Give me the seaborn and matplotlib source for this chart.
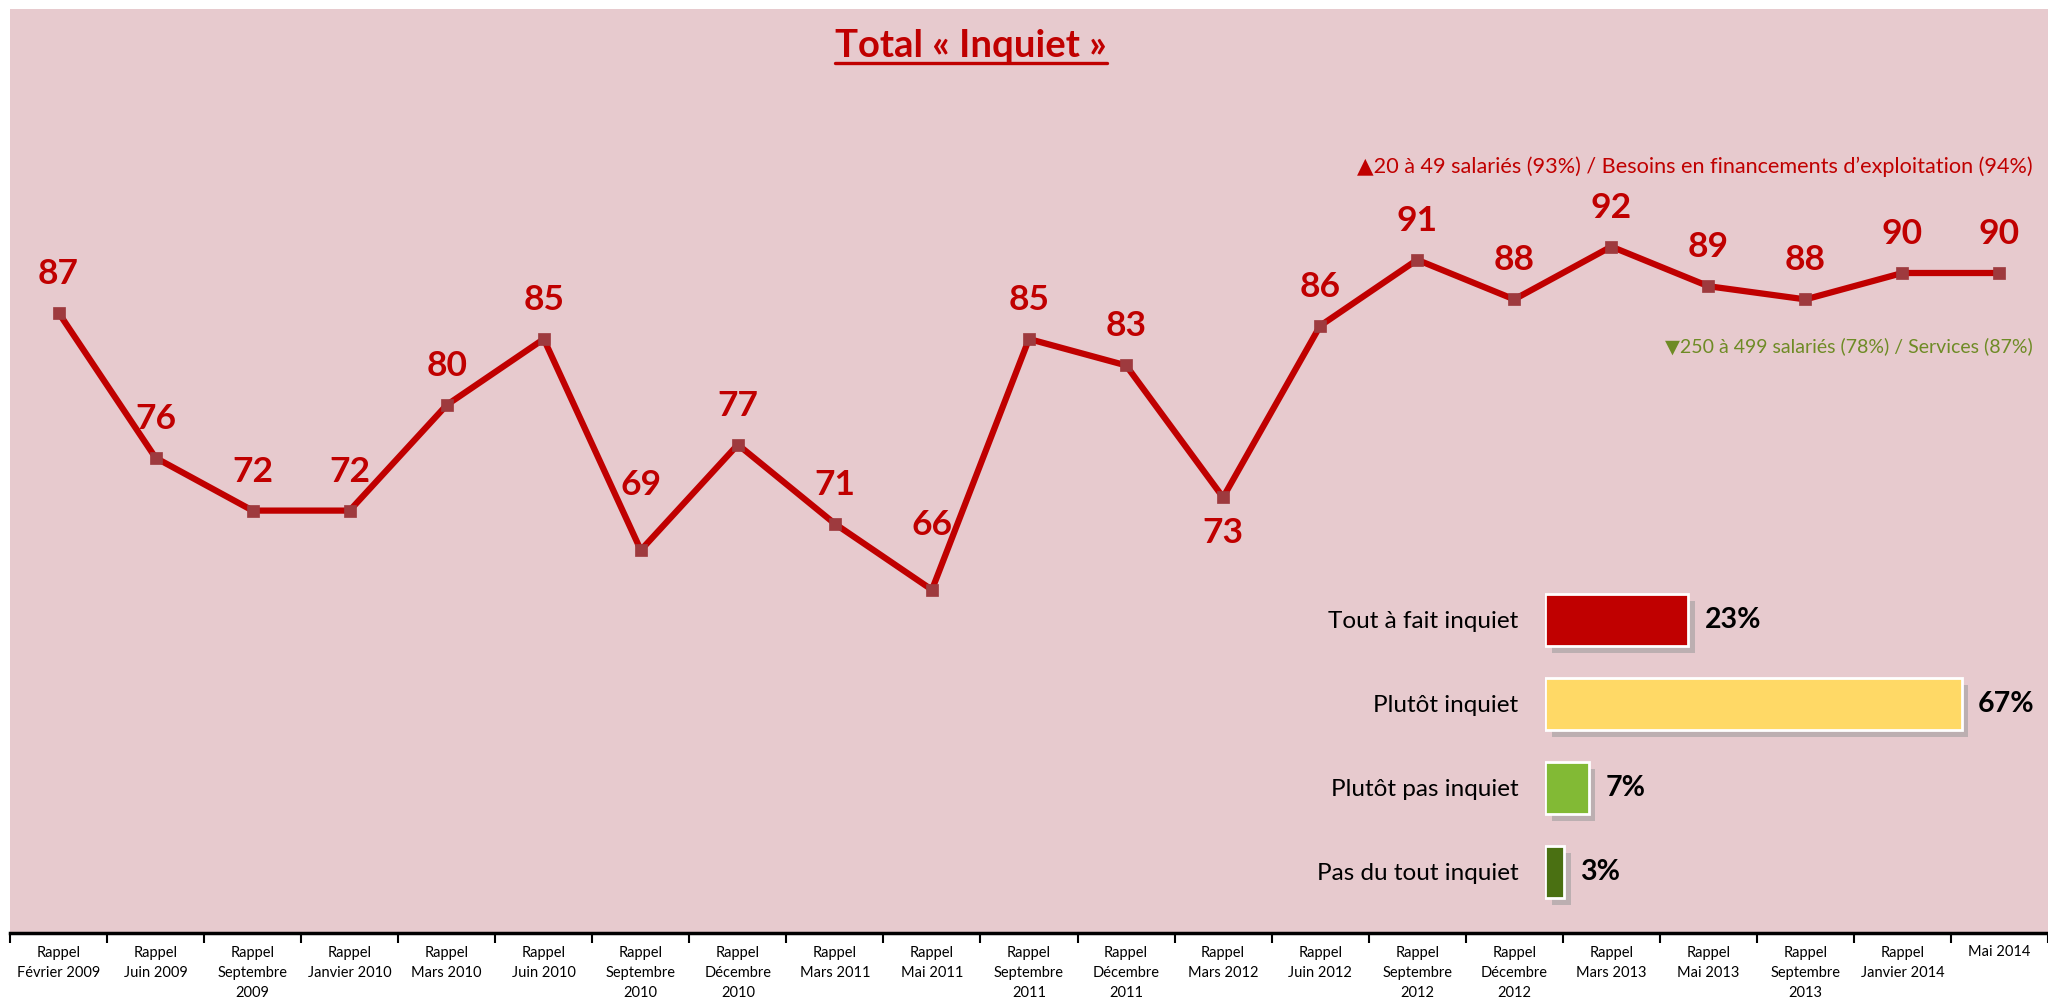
import numpy as np
import pandas as pd
import matplotlib
matplotlib.use("Agg")
import matplotlib.pyplot as plt
import matplotlib.patheffects as pe
from matplotlib.lines import Line2D
import seaborn as sns

# ---------------- data ----------------
waves = ["Rappel\nFévrier 2009", "Rappel\nJuin 2009", "Rappel\nSeptembre\n2009",
         "Rappel\nJanvier 2010", "Rappel\nMars 2010", "Rappel\nJuin 2010",
         "Rappel\nSeptembre\n2010", "Rappel\nDécembre\n2010", "Rappel\nMars 2011",
         "Rappel\nMai 2011", "Rappel\nSeptembre\n2011", "Rappel\nDécembre\n2011",
         "Rappel\nMars 2012", "Rappel\nJuin 2012", "Rappel\nSeptembre\n2012",
         "Rappel\nDécembre\n2012", "Rappel\nMars 2013", "Rappel\nMai 2013",
         "Rappel\nSeptembre\n2013", "Rappel\nJanvier 2014", "Mai 2014"]
total_inquiet = [87, 76, 72, 72, 80, 85, 69, 77, 71, 66, 85, 83, 73, 86, 91, 88, 92, 89, 88, 90, 90]

answers = ["Tout à fait inquiet", "Plutôt inquiet", "Plutôt pas inquiet", "Pas du tout inquiet"]
shares = [23, 67, 7, 3]

title = "Total « Inquiet »"
note_up = "▲20 à 49 salariés (93%) / Besoins en financements d’exploitation (94%)"
note_down = "▼250 à 499 salariés (78%) / Services (87%)"

# ---------------- style ----------------
sns.set_theme(style="white")
plt.rcParams["font.family"] = ["Lato", "DejaVu Sans"]

RED = "#C00000"
MARKER = "#9E3A3E"
PINK = "#E7CACE"
bar_colors = ["#C00000", "#FFD966", "#82BA35", "#4A7012"]
W, H = 2048, 1001

fig = plt.figure(figsize=(W / 100, H / 100), dpi=100, facecolor="white")

# main axes (pixel geometry converted to fractions)
left_px, right_px, top_px, bottom_px = 10, 2048, 9, 933
ax = fig.add_axes([left_px / W, 1 - bottom_px / H, (right_px - left_px) / W, (bottom_px - top_px) / H])
ax.set_facecolor(PINK)

df = pd.DataFrame({"pos": np.arange(len(waves)), "val": total_inquiet, "wave": waves})
sns.lineplot(data=df, x="pos", y="val", ax=ax, color=RED, linewidth=4.5,
             marker="s", markersize=9, markerfacecolor=MARKER, markeredgecolor=MARKER,
             markeredgewidth=0.5, zorder=3)

step = 97.45
ax.set_xlim(-0.5, -0.5 + (right_px - left_px) / step)
ax.set_ylim(40, 110)
ax.set_xlabel("")
ax.set_ylabel("")
ax.set_yticks([])
ax.set_xticks(np.arange(len(waves)))
ax.set_xticklabels(waves, fontsize=10.5, linespacing=1.55, va="top")
ax.set_xticks(np.arange(len(waves) + 1) - 0.5, minor=True)
ax.tick_params(axis="x", which="major", length=0, pad=9, colors="black")
ax.tick_params(axis="x", which="minor", length=7, width=1.5, color="black", direction="out", bottom=True)
for s in ["left", "top", "right"]:
    ax.spines[s].set_visible(False)
ax.spines["bottom"].set_color("black")
ax.spines["bottom"].set_linewidth(2.5)

below = {"Rappel\nMars 2012"}
far_above = {"Rappel\nSeptembre\n2010", "Rappel\nMai 2011"}
for x, v, w in zip(df["pos"], df["val"], df["wave"]):
    if w in below:
        off = -36
    elif w in far_above:
        off = 65
    else:
        off = 39
    ax.annotate(f"{v}", (x, v), xytext=(0, off * 0.72), textcoords="offset points",
                ha="center", va="center", fontsize=25.5, fontweight="bold", color=RED, zorder=4)

# notes
fig.text(2033 / W, 1 - 167 / H, note_up, ha="right", va="center", fontsize=15.6, color=RED)
fig.text(2033 / W, 1 - 346 / H, note_down, ha="right", va="center", fontsize=14, color="#6E8B25")

# title with underline
t = fig.text(971 / W, 1 - 46 / H, title, ha="center", va="center", fontsize=27.5,
             fontweight="bold", color=RED)

# ---------------- inset bars ----------------
bx0, bpx_per = 1545, 6.217
xmax = 70
ax2 = fig.add_axes([bx0 / W, 1 - 914 / H, xmax * bpx_per / W, 336 / H])
ax2.patch.set_alpha(0)
bdf = pd.DataFrame({"answer": answers, "share": shares})
sns.barplot(data=bdf, y="answer", x="share", hue="answer", palette=bar_colors, legend=False,
            orient="h", width=0.62, saturation=1, edgecolor="white", linewidth=2, ax=ax2, zorder=3)
for p in ax2.patches:
    p.set_path_effects([pe.SimplePatchShadow(offset=(5, -5), shadow_rgbFace="#9a9a9a", alpha=0.55),
                        pe.Normal()])
ax2.set_xlim(0, xmax)
ax2.set_xlabel("")
ax2.set_ylabel("")
ax2.set_xticks([])
ax2.tick_params(axis="y", length=0, pad=19, labelsize=17.5, labelcolor="black")
for s in ax2.spines.values():
    s.set_visible(False)
for c in ax2.containers:
    ax2.bar_label(c, labels=[f"{v:.0f}%" for v in c.datavalues], padding=12,
                  fontsize=20.5, fontweight="bold", color="black")

fig.canvas.draw()
bb = t.get_window_extent(renderer=fig.canvas.get_renderer())
uy = 1 - 63 / H
fig.add_artist(Line2D([bb.x0 / W, bb.x1 / W], [uy, uy], transform=fig.transFigure,
                      color=RED, linewidth=2.4))

fig.savefig("out.png", dpi=100, facecolor="white")
